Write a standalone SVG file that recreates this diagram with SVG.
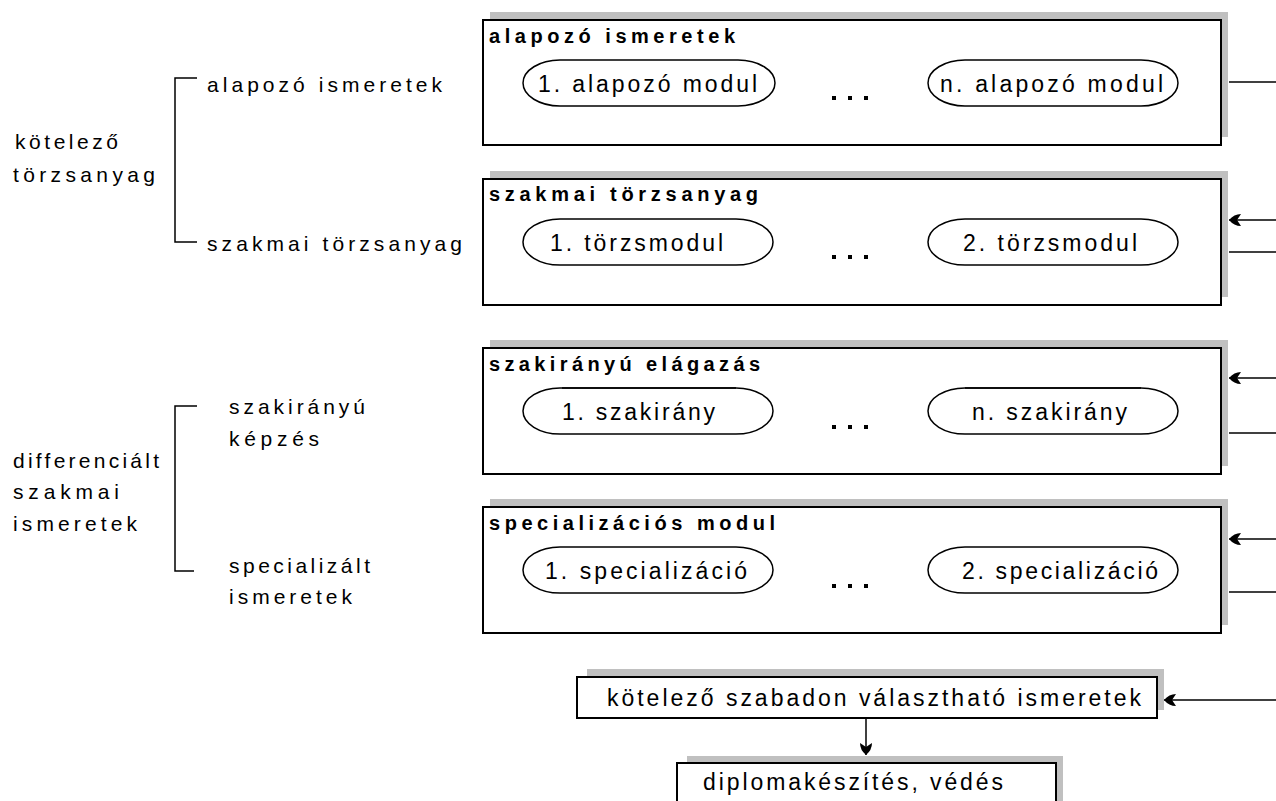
<svg xmlns="http://www.w3.org/2000/svg" width="1276" height="801" viewBox="0 0 1276 801">
<style>
text{font-family:"Liberation Sans",Arial,sans-serif;fill:#000}
.lbl{font-size:21px}
.ttl{font-size:20px;font-weight:bold}
.el{font-size:23px}
.box{fill:#fff;stroke:#000;stroke-width:2}
.sh{fill:#c0c0c0}
.ell{fill:#fff;stroke:#000;stroke-width:1.5}
.ln{stroke:#000;stroke-width:1.5;fill:none}
.dot{fill:#000}
</style>
<defs>
<marker id="ah" markerUnits="userSpaceOnUse" markerWidth="20" markerHeight="14" refX="0" refY="0" orient="auto" viewBox="-16 -7 20 14">
<path d="M0,0 Q-5,-6 -12,-6 L-8,0 L-12,6 Q-5,6 0,0 Z" fill="#000"/>
</marker>
</defs>
<rect width="1276" height="801" fill="#fff"/>

<g id="left-labels">
<path class="ln" d="M197,78 H175 V242 H197"/>
<path class="ln" d="M197,406 H175 V571 H194"/>
<text class="lbl" x="15" y="149" textLength="103" lengthAdjust="spacing">kötelező</text>
<text class="lbl" x="13" y="182" textLength="142" lengthAdjust="spacing">törzsanyag</text>
<text class="lbl" x="207" y="92" textLength="235" lengthAdjust="spacing">alapozó ismeretek</text>
<text class="lbl" x="207" y="251" textLength="255" lengthAdjust="spacing">szakmai törzsanyag</text>
<text class="lbl" x="229" y="414" textLength="136" lengthAdjust="spacing">szakirányú</text>
<text class="lbl" x="229" y="446" textLength="90" lengthAdjust="spacing">képzés</text>
<text class="lbl" x="13" y="468" textLength="146" lengthAdjust="spacing">differenciált</text>
<text class="lbl" x="13" y="499" textLength="106" lengthAdjust="spacing">szakmai</text>
<text class="lbl" x="13" y="531" textLength="124" lengthAdjust="spacing">ismeretek</text>
<text class="lbl" x="229" y="573" textLength="141" lengthAdjust="spacing">specializált</text>
<text class="lbl" x="229" y="604" textLength="123" lengthAdjust="spacing">ismeretek</text>
</g>

<g id="box-alapozo">
<rect class="sh" x="490" y="12" width="738" height="125"/>
<rect class="box" x="483" y="20" width="738" height="125"/>
<text class="ttl" x="489" y="43" textLength="246" lengthAdjust="spacing">alapozó ismeretek</text>
<path class="ell" d="M560,60 H738 A37,23 0 0 1 738,106 H560 A37,23 0 0 1 560,60 Z"/>
<text class="el" x="538" y="92" textLength="219" lengthAdjust="spacing">1. alapozó modul</text>
<path class="ell" d="M965,60 H1141 A37,23 0 0 1 1141,106 H965 A37,23 0 0 1 965,60 Z"/>
<text class="el" x="940" y="92" textLength="223" lengthAdjust="spacing">n. alapozó modul</text>
<rect class="dot" x="832" y="96" width="4" height="4"/><rect class="dot" x="848" y="96" width="4" height="4"/><rect class="dot" x="864" y="96" width="4" height="4"/>
</g>

<g id="box-torzs">
<rect class="sh" x="490" y="171" width="738" height="126"/>
<rect class="box" x="483" y="179" width="738" height="126"/>
<text class="ttl" x="489" y="201" textLength="269" lengthAdjust="spacing">szakmai törzsanyag</text>
<path class="ell" d="M560,219 H736 A37,23 0 0 1 736,265 H560 A37,23 0 0 1 560,219 Z"/>
<text class="el" x="550" y="251" textLength="173" lengthAdjust="spacing">1. törzsmodul</text>
<path class="ell" d="M965,219 H1141 A37,23 0 0 1 1141,265 H965 A37,23 0 0 1 965,219 Z"/>
<text class="el" x="963" y="251" textLength="174" lengthAdjust="spacing">2. törzsmodul</text>
<rect class="dot" x="832" y="255" width="4" height="4"/><rect class="dot" x="848" y="255" width="4" height="4"/><rect class="dot" x="864" y="255" width="4" height="4"/>
</g>

<g id="box-szakirany">
<rect class="sh" x="490" y="340" width="738" height="126"/>
<rect class="box" x="483" y="348" width="738" height="126"/>
<text class="ttl" x="489" y="371" textLength="271" lengthAdjust="spacing">szakirányú elágazás</text>
<path class="ell" d="M560,388 H736 A37,23 0 0 1 736,434 H560 A37,23 0 0 1 560,388 Z"/>
<path class="ln" d="M562,388 H736" stroke-width="3"/>
<text class="el" x="562" y="420" textLength="153" lengthAdjust="spacing">1. szakirány</text>
<path class="ell" d="M965,388 H1141 A37,23 0 0 1 1141,434 H965 A37,23 0 0 1 965,388 Z"/>
<path class="ln" d="M965,388 H1141" stroke-width="3"/>
<text class="el" x="972" y="420" textLength="155" lengthAdjust="spacing">n. szakirány</text>
<rect class="dot" x="832" y="425" width="4" height="4"/><rect class="dot" x="848" y="425" width="4" height="4"/><rect class="dot" x="864" y="425" width="4" height="4"/>
</g>

<g id="box-specializacio">
<rect class="sh" x="490" y="499" width="738" height="126"/>
<rect class="box" x="483" y="507" width="738" height="126"/>
<text class="ttl" x="489" y="530" textLength="286" lengthAdjust="spacing">specializációs modul</text>
<path class="ell" d="M560,547 H736 A37,23 0 0 1 736,593 H560 A37,23 0 0 1 560,547 Z"/>
<text class="el" x="545" y="579" textLength="202" lengthAdjust="spacing">1. specializáció</text>
<path class="ell" d="M965,547 H1141 A37,23 0 0 1 1141,593 H965 A37,23 0 0 1 965,547 Z"/>
<text class="el" x="962" y="579" textLength="196" lengthAdjust="spacing">2. specializáció</text>
<rect class="dot" x="832" y="584" width="4" height="4"/><rect class="dot" x="848" y="584" width="4" height="4"/><rect class="dot" x="864" y="584" width="4" height="4"/>
</g>

<g id="box-szabadon">
<rect class="sh" x="587" y="669" width="577" height="41"/>
<rect class="box" x="577" y="677" width="580" height="41"/>
<text class="el" x="607" y="706" textLength="534" lengthAdjust="spacing">kötelező szabadon választható ismeretek</text>
</g>

<g id="box-diploma">
<rect class="sh" x="687" y="756" width="376" height="50"/>
<rect class="box" x="677" y="763" width="379" height="50"/>
<text class="el" x="703" y="790" textLength="300" lengthAdjust="spacing">diplomakészítés, védés</text>
</g>

<g id="connectors">
<line class="ln" x1="1229" y1="82" x2="1276" y2="82"/>
<line class="ln" x1="1276" y1="220" x2="1229" y2="220" marker-end="url(#ah)"/>
<line class="ln" x1="1229" y1="252" x2="1276" y2="252"/>
<line class="ln" x1="1276" y1="378" x2="1229" y2="378" marker-end="url(#ah)"/>
<line class="ln" x1="1229" y1="433" x2="1276" y2="433"/>
<line class="ln" x1="1276" y1="539" x2="1229" y2="539" marker-end="url(#ah)"/>
<line class="ln" x1="1229" y1="592" x2="1276" y2="592"/>
<line class="ln" x1="1276" y1="700" x2="1164" y2="700" marker-end="url(#ah)"/>
<line class="ln" x1="866" y1="719" x2="866" y2="755" marker-end="url(#ah)"/>
</g>
</svg>
